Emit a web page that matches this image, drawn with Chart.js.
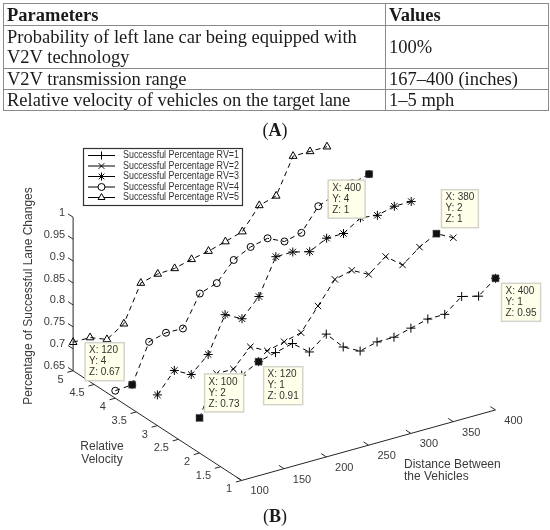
<!DOCTYPE html>
<html><head><meta charset="utf-8">
<script src="https://cdn.jsdelivr.net/npm/chart.js@4/dist/chart.umd.min.js"></script>
<style>
html,body{margin:0;padding:0;background:#fff;width:550px;height:530px;overflow:hidden}
#wrap{position:relative;width:550px;height:530px}
#c{position:absolute;left:0;top:0}
#tbl{position:absolute;left:3px;top:3px;border-collapse:collapse;table-layout:fixed;width:545px;font-family:"Liberation Serif","Times New Roman",serif;font-size:18.5px;color:#1a1a1a}
#tbl td,#tbl th{border:1px solid #8a8a8a;padding:0 3px;line-height:20px;text-align:left;vertical-align:middle;white-space:nowrap;overflow:hidden}
#tbl th{font-weight:bold}
.cap{position:absolute;left:0;width:550px;text-align:center;font-family:"Liberation Serif","Times New Roman",serif;font-size:18px;color:#1a1a1a}
.cap b{font-weight:bold}
</style></head>
<body><div id="wrap">
<canvas id="c" width="550" height="530"></canvas>
<table id="tbl">
<colgroup><col style="width:382px"><col style="width:163px"></colgroup>
<tr style="height:22px"><th>Parameters</th><th>Values</th></tr>
<tr style="height:43px"><td>Probability of left lane car being equipped with<br>V2V technology</td><td>100%</td></tr>
<tr style="height:20px"><td>V2V transmission range</td><td>167–400 (inches)</td></tr>
<tr style="height:20px"><td>Relative velocity of vehicles on the target lane</td><td>1–5 mph</td></tr>
</table>
<div class="cap" style="top:120px">(<b>A</b>)</div>
<div class="cap" style="top:506px">(<b>B</b>)</div>
</div>
<script>
// ---- data ----
const distances = [100,120,140,160,180,200,220,240,260,280,300,320,340,360,380,400];
const relVelocities = [1,2,3,4,5];
const seriesNames = ['Successful Percentage RV=1','Successful Percentage RV=2','Successful Percentage RV=3','Successful Percentage RV=4','Successful Percentage RV=5'];
const pctRV1 = [0.89,0.91,0.92,0.93,0.90,0.93,0.89,0.87,0.88,0.88,0.89,0.90,0.90,0.93,0.92,0.95];
const pctRV2 = [0.73,0.82,0.82,0.86,0.84,0.85,0.86,0.91,0.96,0.97,0.95,0.98,0.95,0.98,1.00,0.98];
const pctRV3 = [0.72,0.765,0.745,0.78,0.86,0.84,0.88,0.96,0.96,0.95,0.97,0.97,0.995,0.99,1.00,1.00];
const pctRV4 = [0.667,0.67,0.757,0.767,0.766,0.835,0.848,0.89,0.909,0.918,0.90,0.909,0.959,0.975,0.99,1.00];
const pctRV5 = [0.715,0.715,0.70,0.725,0.807,0.817,0.819,0.829,0.837,0.848,0.86,0.909,0.92,1.00,1.00,1.00];
const zTicks = [0.65,0.7,0.75,0.8,0.85,0.9,0.95,1];
const rvTicks = [1,1.5,2,2.5,3,3.5,4,4.5,5];
const distTicks = [100,150,200,250,300,350,400];
const zTitle = 'Percentage of Successful Lane Changes';
const rvTitle = ['Relative','Velocity'];
const distTitle = ['Distance Between','the Vehicles'];
// datatips: [series index, distance index]
const datatipSeries = [3,1,0,3,1,0];
const datatipIndex  = [15,14,15,1,0,1];

// ---- layout / projection (view geometry) ----
const VIEW = {ox:241, oy:485, d0:100, r0:1, z0:0.65, ddx:259/300, ddy:-72/300, drx:-43, dry:-28, zs:448};
function proj(d, rv, z){
  return {x: VIEW.ox + (d-VIEW.d0)*VIEW.ddx + (rv-VIEW.r0)*VIEW.drx,
          y: VIEW.oy + (d-VIEW.d0)*VIEW.ddy + (rv-VIEW.r0)*VIEW.dry - (z-VIEW.z0)*VIEW.zs};
}
const allPct = [pctRV1,pctRV2,pctRV3,pctRV4,pctRV5];
const styles = ['cross','crossRot','star','circle','triangle'];
const tipPlace = [[-39,6],[5,-44],[6,5],[-43,-42],[5,-44],[5,5]];

const datasets = allPct.map((vals,si)=>({
  label: seriesNames[si],
  data: distances.map((d,i)=>proj(d, relVelocities[si], vals[i])),
  showLine:true, borderColor:'#000', borderWidth:1, borderDash:[5,4],
  pointStyle: styles[si], pointRadius: si===3?3.5:4.5, pointBorderColor:'#000',
  pointBackgroundColor:'rgba(0,0,0,0)', pointBorderWidth:1, clip:false, order:1
}));
datasets.push({
  label:'datatips',
  data: datatipSeries.map((s,k)=>proj(distances[datatipIndex[k]], relVelocities[s], allPct[s][datatipIndex[k]])),
  showLine:false, pointStyle:'rect', pointRadius:5, pointBackgroundColor:'#111', pointBorderColor:'#666', pointBorderWidth:0.5, clip:false, order:-1
});

function fmt(v){ return String(Number(v.toFixed(2))); }

const axesPlugin = {
  id:'axes3d',
  beforeDatasetsDraw(chart){
    const ctx = chart.ctx, xs = chart.scales.x, ys = chart.scales.y;
    const P = (d,rv,z)=>{const p=proj(d,rv,z); return [xs.getPixelForValue(p.x), ys.getPixelForValue(p.y)];};
    const dMin = distances[0], dMax = distances[distances.length-1];
    const rMin = relVelocities[0], rMax = relVelocities[relVelocities.length-1];
    const zMin = zTicks[0], zMax = zTicks[zTicks.length-1];
    ctx.save();
    ctx.strokeStyle = '#262626'; ctx.lineWidth = 1;
    const line=(a,b)=>{ctx.beginPath();ctx.moveTo(a[0],a[1]);ctx.lineTo(b[0],b[1]);ctx.stroke();};
    line(P(dMin,rMax,zMin), P(dMin,rMax,zMax));
    line(P(dMin,rMax,zMin), P(dMin,rMin,zMin));
    line(P(dMin,rMin,zMin), P(dMax,rMin,zMin));
    const rl = Math.hypot(VIEW.drx,VIEW.dry), dl = Math.hypot(VIEW.ddx,VIEW.ddy);
    const tr = [VIEW.drx/rl*6, VIEW.dry/rl*6], td = [-VIEW.ddx/dl*6, -VIEW.ddy/dl*6];
    ctx.fillStyle = '#3a3a3a';
    ctx.font = '11px "Liberation Sans", Arial, sans-serif';
    ctx.textAlign='right'; ctx.textBaseline='middle';
    zTicks.forEach(z=>{const p=P(dMin,rMax,z); line(p,[p[0]+tr[0],p[1]+tr[1]]); ctx.fillText(fmt(z), p[0]-8, p[1]-4.5);});
    rvTicks.forEach(r=>{const p=P(dMin,r,zMin); line(p,[p[0]+td[0],p[1]+td[1]]); ctx.fillText(String(r), p[0]-9.5, p[1]+9);});
    ctx.textAlign='center';
    distTicks.forEach(d=>{const p=P(d,rMin,zMin); line(p,[p[0]+tr[0],p[1]+tr[1]]); ctx.fillText(String(d), p[0]+18, p[1]+11);});
    ctx.font = '12px "Liberation Sans", Arial, sans-serif';
    ctx.textAlign='center';
    ctx.fillText(rvTitle[0], 102, 447); ctx.fillText(rvTitle[1], 102, 459.5);
    ctx.textAlign='left';
    ctx.fillText(distTitle[0], 404, 465); ctx.fillText(distTitle[1], 404, 477);
    ctx.save(); ctx.translate(29,296); ctx.rotate(-Math.PI/2); ctx.textAlign='center';
    ctx.fillText(zTitle,0,0); ctx.restore();
    ctx.restore();
  },
  afterDraw(chart){
    const ctx = chart.ctx, xs = chart.scales.x, ys = chart.scales.y;
    ctx.save();
    ctx.font = '10px "Liberation Sans", Arial, sans-serif';
    ctx.textBaseline='middle'; ctx.textAlign='left';
    datatipSeries.forEach((s,k)=>{
      const i = datatipIndex[k];
      const p = proj(distances[i], relVelocities[s], allPct[s][i]);
      const px = xs.getPixelForValue(p.x), py = ys.getPixelForValue(p.y);
      const lines = ['X: '+distances[i], 'Y: '+relVelocities[s], 'Z: '+fmt(allPct[s][i])];
      const w = Math.max(...lines.map(t=>ctx.measureText(t).width)) + 8, h = 38;
      const bx = px + tipPlace[k][0] - (tipPlace[k][0]<0 ? w-35 : 0), by = py + tipPlace[k][1];
      ctx.fillStyle = '#ffffea'; ctx.fillRect(bx,by,w,h);
      ctx.strokeStyle = '#d4d4cc'; ctx.lineWidth=1.5; ctx.strokeRect(bx,by,w,h);
      ctx.fillStyle = '#333';
      lines.forEach((t,j)=>ctx.fillText(t, bx+4, by+8+j*11));
    });
    // legend
    const lx=83.5, ly=148.5, lw=159, lh=57;
    ctx.fillStyle='#fff'; ctx.fillRect(lx,ly,lw,lh);
    ctx.strokeStyle='#333'; ctx.lineWidth=1.2; ctx.strokeRect(lx,ly,lw,lh);
    ctx.font = '10px "Liberation Sans", Arial, sans-serif';
    seriesNames.forEach((n,si)=>{
      const y = 155.5 + si*10.5;
      ctx.strokeStyle='#000'; ctx.lineWidth=1; ctx.setLineDash([]);
      ctx.beginPath(); ctx.moveTo(88,y); ctx.lineTo(115,y); ctx.stroke();
      ctx.fillStyle='#fff';
      Chart.helpers.drawPoint(ctx,{pointStyle:styles[si],radius:si===3?3.5:4,rotation:0,borderWidth:1},101.5,y);
      ctx.fillStyle='#333';
      ctx.fillText(n, 123, y, 116);
    });
    ctx.restore();
  }
};

new Chart(document.getElementById('c'), {
  type:'scatter',
  data:{datasets},
  options:{
    responsive:false, animation:false, events:[],
    layout:{padding:0},
    scales:{
      x:{type:'linear', min:0, max:550, display:false},
      y:{type:'linear', min:0, max:530, reverse:true, display:false}
    },
    plugins:{legend:{display:false}, tooltip:{enabled:false}}
  },
  plugins:[axesPlugin]
});
</script>
</body></html>
